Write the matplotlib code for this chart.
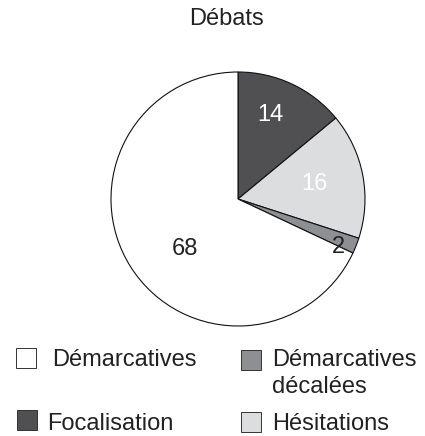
import numpy as np
import matplotlib
matplotlib.use("Agg")
import matplotlib.pyplot as plt
from matplotlib.patches import Rectangle

plt.rcParams['font.family'] = ['Liberation Sans', 'DejaVu Sans']

# data, clockwise from 12 o'clock
labels = ['Focalisation', 'Hésitations', 'Démarcatives\ndécalées', 'Démarcatives']
values = [14, 16, 2, 68]
colors = ['#505052', '#dcdddf', '#8e8f92', '#ffffff']
text_colors = ['white', 'white', '#222222', '#222222']
label_r = [0.71, 0.61, 0.88, 0.57]
label_shift = [4, 0, -4, 11]  # degrees, nudges the number inside its slice

W, H = 425, 436
fig = plt.figure(figsize=(W / 100, H / 100), dpi=100)

# pie: centre (238, 199) px, radius 127 px
cx, cy, r = 238, 199, 127
pad = 1.02
ax = fig.add_axes([(cx - r * pad) / W, (H - cy - r * pad) / H, 2 * r * pad / W, 2 * r * pad / H])
wedges, _ = ax.pie(values, colors=colors, startangle=90, counterclock=False,
                   wedgeprops=dict(edgecolor='#111111', linewidth=0.8))
ax.set_xlim(-pad, pad)
ax.set_ylim(-pad, pad)
ax.set_aspect('equal')

for w, v, tc, lr, sh in zip(wedges, values, text_colors, label_r, label_shift):
    mid = np.deg2rad((w.theta1 + w.theta2) / 2 + sh)
    ax.text(lr * np.cos(mid), lr * np.sin(mid), str(v), ha='center', va='center',
            fontsize=17, color=tc)

fig.text(227 / W, 1 - 25 / H, 'Débats', ha='center', va='baseline', fontsize=17, color='#222222')

# legend, drawn by hand so the two-line label keeps its box on the first line
legend_order = [3, 2, 0, 1]
box_pos = [(16, 348), (241, 350), (17, 410), (241, 412)]   # top-left of box, px
text_pos = [(52, 366), (272, 366), (47, 430), (272, 430)]  # first baseline, px
for i, (bx, by), (tx, ty) in zip(legend_order, box_pos, text_pos):
    fig.add_artist(Rectangle((bx / W, 1 - (by + 20) / H), 20 / W, 20 / H,
                             transform=fig.transFigure, facecolor=colors[i],
                             edgecolor='#333333', linewidth=0.7))
    for k, line in enumerate(labels[i].split('\n')):
        fig.text(tx / W, 1 - (ty + 27 * k) / H, line, ha='left', va='baseline',
                 fontsize=17, color='#222222')

fig.savefig('out.png', dpi=100)
